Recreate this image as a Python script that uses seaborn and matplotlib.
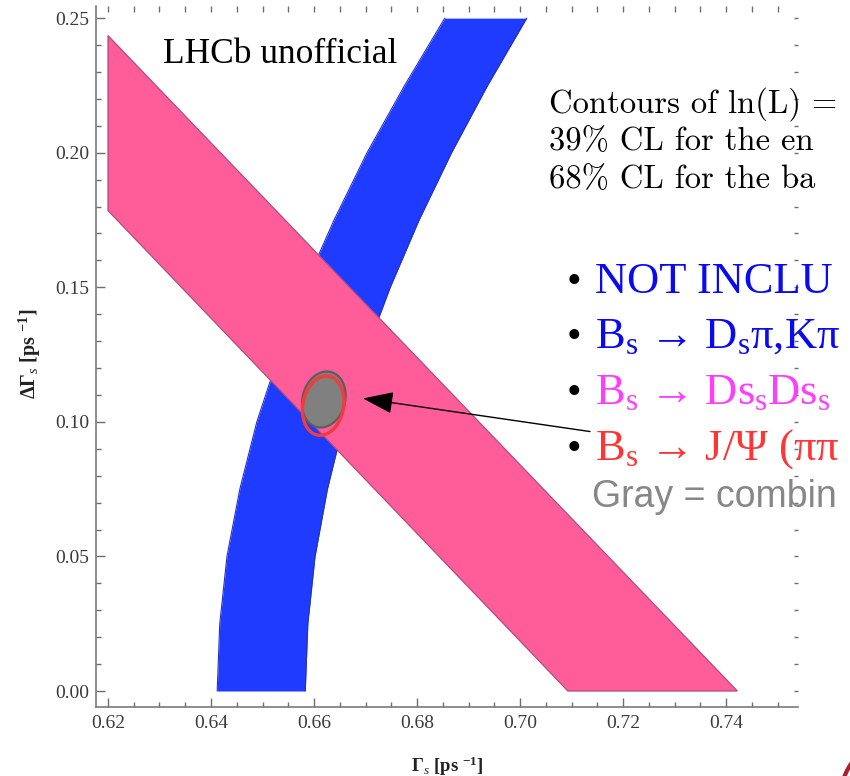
import numpy as np
import pandas as pd
import matplotlib
matplotlib.use("Agg")
import matplotlib.pyplot as plt
import seaborn as sns
from matplotlib.ticker import MultipleLocator, FormatStrFormatter
from matplotlib.patches import Arc

# --- B_s -> D_s pi, K pi band: left / right edge of Gamma_s at each DeltaGamma_s
blue_dgamma = [0.000, 0.025, 0.050, 0.075, 0.100, 0.125, 0.150, 0.175, 0.200, 0.225, 0.250]
blue_left   = [0.6412, 0.6417, 0.6431, 0.6456, 0.6489, 0.6532, 0.6581, 0.6639, 0.6703, 0.6776, 0.6854]
blue_right  = [0.6583, 0.6588, 0.6602, 0.6626, 0.6658, 0.6699, 0.6748, 0.6804, 0.6867, 0.6937, 0.7013]

# --- B_s -> Ds Ds band corners (Gamma_s, DeltaGamma_s)
pink_gamma  = [0.6200, 0.6200, 0.7422, 0.7093]
pink_dgamma = [0.1785, 0.2435, 0.0000, 0.0000]

# --- J/psi pi pi contour (red) and combined contour (gray): centre, half-widths
gray_center = (0.6619, 0.1083)
gray_half   = (0.0042, 0.0104)
red_center  = (0.6618, 0.1060)
red_half    = (0.0040, 0.0110)

x_ticks = [0.62, 0.64, 0.66, 0.68, 0.70, 0.72, 0.74]
y_ticks = [0.00, 0.05, 0.10, 0.15, 0.20, 0.25]

blue_df = pd.DataFrame({"dgamma": blue_dgamma, "left": blue_left, "right": blue_right})

sns.set_style("ticks")
plt.rcParams["font.family"] = ["Liberation Serif", "DejaVu Serif"]
plt.rcParams["mathtext.fontset"] = "custom"
plt.rcParams["mathtext.rm"] = "Liberation Serif"
plt.rcParams["mathtext.it"] = "Liberation Serif:italic"
plt.rcParams["mathtext.bf"] = "Liberation Serif:bold"

W, H = 850, 776
fig = plt.figure(figsize=(W / 100, H / 100), dpi=100)
ax = fig.add_axes([96 / W, 1 - 707 / H, (798 - 96) / W, (707 - 6) / H])

PINK, PINK_EDGE = "#FF5C9A", "#B04C80"
BLUE, BLUE_EDGE = "#1F3BFF", "#2433B8"

# blue band
ax.fill_betweenx(blue_df["dgamma"], blue_df["left"], blue_df["right"],
                 color=BLUE, lw=0, zorder=1)
sns.lineplot(data=blue_df, x="left", y="dgamma", sort=False, estimator=None,
             color=BLUE_EDGE, lw=0.8, ax=ax, zorder=1.1)
sns.lineplot(data=blue_df, x="right", y="dgamma", sort=False, estimator=None,
             color=BLUE_EDGE, lw=0.8, ax=ax, zorder=1.1)

# pink band on top
ax.fill(pink_gamma, pink_dgamma, facecolor=PINK, edgecolor=PINK_EDGE, lw=0.9, zorder=1.2)

# contours
t = np.linspace(0, 2 * np.pi, 200)
shear = 0.0006
gx = gray_center[0] + gray_half[0] * np.cos(t) + shear * np.sin(t)
gy = gray_center[1] + gray_half[1] * np.sin(t)
ax.fill(gx, gy, facecolor="#808080", edgecolor="#5E5E5E", lw=1.6, zorder=1.5)
rx = red_center[0] + red_half[0] * np.cos(t) + shear * np.sin(t)
ry = red_center[1] + red_half[1] * np.sin(t)
sns.lineplot(x=rx, y=ry, sort=False, estimator=None, color="#F03C3C", lw=2.4,
             ax=ax, zorder=1.6)

# arrow pointing at the contours
ax.annotate("", xy=(0.6695, 0.1087), xytext=(0.7136, 0.0964),
            arrowprops=dict(arrowstyle="-|>,head_length=1.0,head_width=0.36",
                            mutation_scale=19, color="black", lw=1.0,
                            shrinkA=0, shrinkB=0),
            annotation_clip=False, zorder=3)

ax.set_xlim(0.61767, 0.75398)
ax.set_ylim(-0.00594, 0.2545)
ax.set_xticks(x_ticks)
ax.set_yticks(y_ticks)
ax.xaxis.set_major_formatter(FormatStrFormatter("%.2f"))
ax.yaxis.set_major_formatter(FormatStrFormatter("%.2f"))
ax.xaxis.set_minor_locator(MultipleLocator(0.005))
ax.yaxis.set_minor_locator(MultipleLocator(0.01))
ax.set_xlabel("")
ax.set_ylabel("")

for side in ("top", "right"):
    ax.spines[side].set_visible(False)
for side in ("left", "bottom"):
    ax.spines[side].set_color("#7A7A7A")
    ax.spines[side].set_linewidth(1.2)

ax.tick_params(which="both", direction="in", top=True, right=True,
               color="#6E6E6E", width=1.0, labelcolor="#3A3A3A",
               labelsize=14)
ax.tick_params(which="major", length=6.3)
ax.tick_params(which="minor", length=3.6)
ax.tick_params(axis="x", pad=6)
ax.tick_params(axis="y", pad=5)
for tk in ax.xaxis.get_major_ticks() + ax.xaxis.get_minor_ticks():
    tk.tick2line.set_color("#A8A8A8")
    tk.tick2line.set_markersize(4)
for tk in ax.yaxis.get_major_ticks() + ax.yaxis.get_minor_ticks():
    tk.tick2line.set_color("#A8A8A8")
    tk.tick2line.set_markersize(3)

# axis titles
fig.text(447 / W, 1 - 766 / H, r"$\mathbf{\Gamma}_{\mathit{s}}$ [ps $^{\mathbf{-1}}$]",
         ha="center", va="center", fontsize=13.5, fontweight="bold", color="#222222")
fig.text(30 / W, 1 - 354 / H, r"$\mathbf{\Delta\Gamma}_{\mathit{s}}$ [ps $^{\mathbf{-1}}$]",
         ha="center", va="center", rotation=90, fontsize=14.5, fontweight="bold",
         color="#222222")


def put(xp, yp, s, **kw):
    ax.text(xp / W, 1 - yp / H, s, transform=fig.transFigure, clip_on=False,
            va="baseline", zorder=2.2, **kw)


put(163, 63, "LHCb unofficial", fontsize=25.5, color="black")

cm = ["cmr10", "DejaVu Serif"]
put(549, 113, "Contours of ln(L) =", fontsize=23.5, family=cm, color="black")
put(549, 150, "39% CL for the en", fontsize=23.5, family=cm, color="black")
put(549, 188, "68% CL for the ba", fontsize=23.5, family=cm, color="black")

bullets = [
    (293, "NOT INCLU", "#0A0AF2"),
    (348, r"B$_\mathrm{s}$ → D$_\mathrm{s}$π,Kπ", "#0A0AF2"),
    (404, r"B$_\mathrm{s}$ → Ds$_\mathrm{s}$Ds$_\mathrm{s}$", "#FF3DFF"),
    (460, r"B$_\mathrm{s}$ → J/Ψ (ππ", "#FF3535"),
]
for yb, s, c in bullets:
    put(567, yb, "•", fontsize=30, color="black")
    put(595, yb, s, fontsize=32, color=c)

put(592, 507, "Gray = combin", fontsize=27, family=["Liberation Sans", "DejaVu Sans"],
    color="#878787")

# slide decoration in the lower right corner
fig.add_artist(Arc((905 / W, 1 - 800 / H), 130 / W, 130 / H, theta1=100, theta2=180,
                   transform=fig.transFigure, color="#B01E2A", lw=3))

fig.savefig("out.png", dpi=100)
